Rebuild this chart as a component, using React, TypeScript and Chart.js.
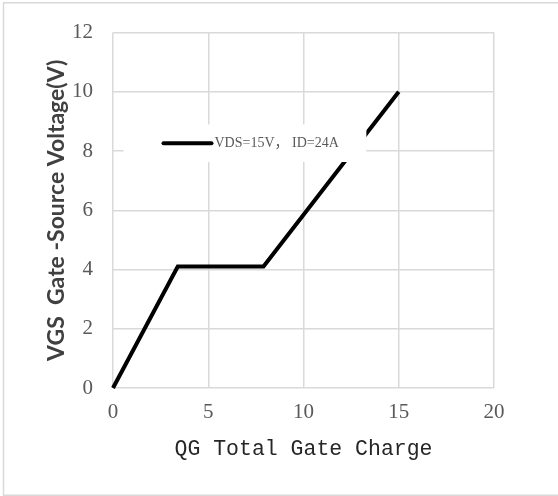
import { useEffect, useRef } from "react";
import { Chart, registerables } from "chart.js";

Chart.register(...registerables);

const chargeNc = [0, 3.4, 7.9, 15];
const gateVoltage = [0, 4.1, 4.1, 10];
const seriesLabel = "VDS=15V， ID=24A";
const xTitle = "QG Total Gate Charge";
const yTitle = "VGS  Gate -Source Voltage(V)";
const xRange = [0, 20];
const xStep = 5;
const yRange = [0, 12];
const yStep = 2;
// legend box extent in data units (placement of the inset legend)
const legendBoxX = [0.55, 13.3];
const legendBoxY = [8.9, 7.63];

const framePlugin = {
  id: "frame",
  beforeDraw(chart: any) {
    const { ctx } = chart;
    ctx.save();
    ctx.strokeStyle = "#d9d9d9";
    ctx.lineWidth = 1.5;
    ctx.strokeRect(3.5, 2.75, 600, 492.5);
    ctx.restore();
  },
};

const insetLegendPlugin = {
  id: "insetLegend",
  afterDatasetsDraw(chart: any) {
    const { ctx, scales } = chart;
    const x = scales.x;
    const y = scales.y;
    const l = x.getPixelForValue(legendBoxX[0]);
    const r = x.getPixelForValue(legendBoxX[1]);
    const t = y.getPixelForValue(legendBoxY[0]);
    const b = y.getPixelForValue(legendBoxY[1]);
    const ds = chart.data.datasets[0];
    ctx.save();
    ctx.fillStyle = "#ffffff";
    ctx.fillRect(l, t, r - l, b - t);
    const cy = (t + b) / 2;
    ctx.strokeStyle = ds.borderColor;
    ctx.lineWidth = 4;
    ctx.lineCap = "round";
    ctx.beginPath();
    ctx.moveTo(l + 40, cy);
    ctx.lineTo(l + 88, cy);
    ctx.stroke();
    ctx.fillStyle = "#595959";
    ctx.font = "14px 'Liberation Serif', 'Noto Sans CJK SC', serif";
    ctx.textAlign = "left";
    ctx.textBaseline = "middle";
    ctx.fillText(ds.label, l + 91, cy + 0.5);
    ctx.restore();
  },
};

export default function App() {
  const ref = useRef<HTMLCanvasElement | null>(null);

  useEffect(() => {
    if (!ref.current) return;
    const chart = new Chart(ref.current, {
      type: "scatter",
      data: {
        datasets: [
          {
            label: seriesLabel,
            data: chargeNc.map((v, i) => ({ x: v, y: gateVoltage[i] })),
            showLine: true,
            borderColor: "#000000",
            backgroundColor: "#000000",
            borderWidth: 4,
            pointRadius: 0,
            pointHoverRadius: 0,
            borderJoinStyle: "miter",
            borderCapStyle: "butt",
            clip: false,
          } as any,
        ],
      },
      options: {
        animation: false,
        responsive: false,
        devicePixelRatio: 1,
        layout: { padding: { left: 0, right: 64, top: 29, bottom: 0 } },
        plugins: {
          legend: { display: false },
          tooltip: { enabled: false },
        },
        scales: {
          x: {
            type: "linear",
            min: xRange[0],
            max: xRange[1],
            afterFit(scale: any) {
              scale.height = 108;
            },
            ticks: {
              stepSize: xStep,
              padding: 12,
              color: "#595959",
              font: { family: "'Liberation Serif', serif", size: 21 },
            },
            grid: { color: "#d9d9d9", lineWidth: 1.5, drawTicks: false },
            border: { display: false },
            title: {
              display: true,
              text: xTitle,
              color: "#262626",
              font: { family: "'Liberation Mono', monospace", size: 21.5 },
              padding: { top: 0, bottom: 34 },
            },
          },
          y: {
            type: "linear",
            min: yRange[0],
            max: yRange[1],
            afterFit(scale: any) {
              scale.width = 113;
            },
            ticks: {
              stepSize: yStep,
              padding: 20,
              color: "#595959",
              font: { family: "'Liberation Serif', serif", size: 21 },
            },
            grid: { color: "#d9d9d9", lineWidth: 1.5, drawTicks: false },
            border: { display: false },
            title: {
              display: true,
              text: yTitle,
              color: "#404040",
              font: { family: "Lato, 'Liberation Sans', sans-serif", size: 23, weight: "bold" },
              padding: { top: 43, bottom: 0 },
            },
          },
        },
      } as any,
      plugins: [framePlugin, insetLegendPlugin],
    });
    return () => chart.destroy();
  }, []);

  return (
    <div style={{ position: "absolute", left: 0, top: 0, width: 558, height: 496, background: "#fff" }}>
      <canvas ref={ref} width={558} height={496} style={{ display: "block" }} />
    </div>
  );
}
